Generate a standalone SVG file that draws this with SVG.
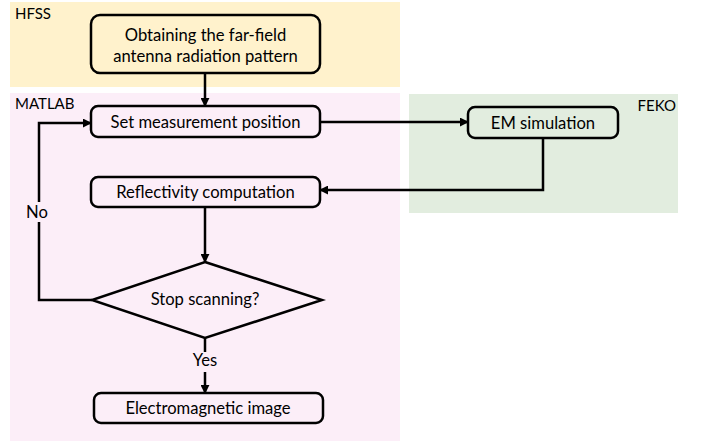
<svg xmlns="http://www.w3.org/2000/svg" width="706" height="444" viewBox="0 0 706 444">
  <defs>
    <marker id="arrow" viewBox="0 0 10 10" refX="9" refY="5" markerWidth="9" markerHeight="9" markerUnits="userSpaceOnUse" orient="auto">
      <path d="M0,0 L10,5 L0,10 Z" fill="#000"/>
    </marker>
    <style>
      .zone-label { font-family: Lato, "Open Sans", sans-serif; font-size: 15px; fill: #000; }
      .box { fill: none; stroke: #000; stroke-width: 2.5; }
      .txt { font-family: Lato, "Open Sans", sans-serif; font-size: 16.6px; fill: #000; text-anchor: middle; }
      .edge { fill: none; stroke: #000; stroke-width: 2.5; }
    </style>
  </defs>

  <!-- tool zones -->
  <g id="zone-hfss">
    <rect x="10" y="2" width="390" height="85" fill="#FFF2CC"/>
    <text class="zone-label" x="15" y="19">HFSS</text>
  </g>
  <g id="zone-matlab">
    <rect x="10" y="93" width="390" height="348" fill="#FCEEF8"/>
    <text class="zone-label" x="15" y="109">MATLAB</text>
  </g>
  <g id="zone-feko">
    <rect x="409" y="94" width="269" height="119" fill="#E2EDDF"/>
    <text class="zone-label" x="676" y="111" text-anchor="end">FEKO</text>
  </g>

  <!-- process nodes -->
  <g id="node-farfield">
    <rect class="box" x="91" y="15" width="229" height="58" rx="9"/>
    <text class="txt" x="205.5" y="40.5">Obtaining the far-field</text>
    <text class="txt" x="205.5" y="62">antenna radiation pattern</text>
  </g>
  <g id="node-position">
    <rect class="box" x="91" y="106" width="229" height="31" rx="7"/>
    <text class="txt" x="205.5" y="127.5">Set measurement position</text>
  </g>
  <g id="node-em">
    <rect class="box" x="468" y="107" width="150" height="31" rx="7"/>
    <text class="txt" x="543" y="128.5">EM simulation</text>
  </g>
  <g id="node-reflectivity">
    <rect class="box" x="91" y="177" width="229" height="30" rx="7"/>
    <text class="txt" x="205.5" y="198">Reflectivity computation</text>
  </g>
  <g id="node-stop">
    <polygon class="box" points="205,262 322,300 205,338 92,300"/>
    <text class="txt" x="205" y="305">Stop scanning?</text>
  </g>
  <g id="node-image">
    <rect class="box" x="94" y="393" width="229" height="30" rx="7"/>
    <text class="txt" x="208" y="414">Electromagnetic image</text>
  </g>

  <!-- connectors -->
  <g id="connectors">
    <path class="edge" d="M205,73 V106" marker-end="url(#arrow)"/>
    <path class="edge" d="M320,122 H468" marker-end="url(#arrow)"/>
    <path class="edge" d="M543,138 V190 H320" marker-end="url(#arrow)"/>
    <path class="edge" d="M205,207 V262" marker-end="url(#arrow)"/>
    <path class="edge" d="M92,300 H39 V222"/>
    <path class="edge" d="M39,202 V123 H91" marker-end="url(#arrow)"/>
    <text class="txt" x="37" y="218">No</text>
    <path class="edge" d="M205,338 V352"/>
    <text class="txt" x="205" y="366">Yes</text>
    <path class="edge" d="M205,372 V393" marker-end="url(#arrow)"/>
  </g>
</svg>
